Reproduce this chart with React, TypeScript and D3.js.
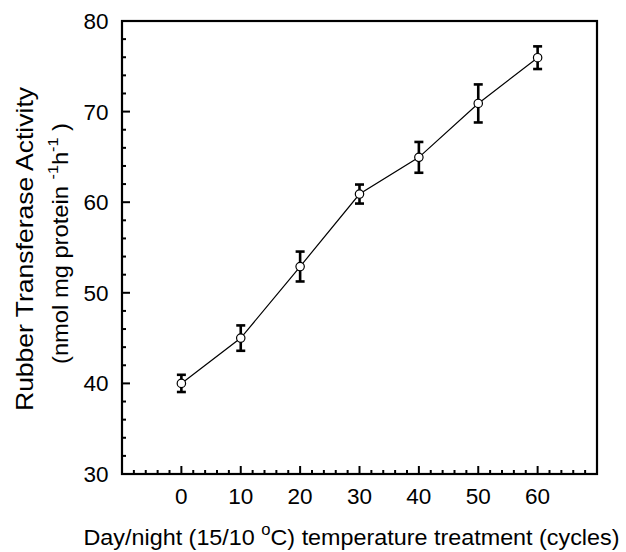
import React, { useEffect, useRef } from "react";
import * as d3 from "d3";

const cycles = [0, 10, 20, 30, 40, 50, 60];
const activity = [40.0, 45.0, 52.9, 60.9, 64.95, 70.9, 75.95];
const errors = [0.95, 1.4, 1.65, 1.05, 1.7, 2.1, 1.25];
const xTickValues = [0, 10, 20, 30, 40, 50, 60];
const yTickValues = [30, 40, 50, 60, 70, 80];

const W = 626;
const H = 552;
const FONT = "'Liberation Sans', Arial, sans-serif";

export default function App() {
  const ref = useRef<SVGSVGElement | null>(null);

  useEffect(() => {
    const svg = d3.select(ref.current);
    svg.selectAll("*").remove();

    const left = 122, right = 597, top = 21, bottom = 474;
    const x = d3.scaleLinear().domain([-10, 70]).range([left, right]);
    const y = d3.scaleLinear().domain([30, 80]).range([bottom, top]);

    const g = svg.append("g");

    const xMinor = d3.range(-8, 70, 2).filter((v) => v % 10 !== 0);
    g.selectAll(".xminor").data(xMinor).enter().append("line")
      .attr("x1", (d) => x(d)).attr("x2", (d) => x(d))
      .attr("y1", bottom).attr("y2", bottom - 4)
      .attr("stroke", "#000").attr("stroke-width", 2);
    g.selectAll(".xmajor").data(xTickValues).enter().append("line")
      .attr("x1", (d) => x(d)).attr("x2", (d) => x(d))
      .attr("y1", bottom).attr("y2", bottom - 8)
      .attr("stroke", "#000").attr("stroke-width", 2);

    const yMinor = d3.range(32, 80, 2).filter((v) => v % 10 !== 0);
    g.selectAll(".yminor").data(yMinor).enter().append("line")
      .attr("x1", left).attr("x2", left + 4)
      .attr("y1", (d) => y(d)).attr("y2", (d) => y(d))
      .attr("stroke", "#000").attr("stroke-width", 2);
    g.selectAll(".ymajor").data(yTickValues).enter().append("line")
      .attr("x1", left).attr("x2", left + 8)
      .attr("y1", (d) => y(d)).attr("y2", (d) => y(d))
      .attr("stroke", "#000").attr("stroke-width", 2);

    g.append("rect")
      .attr("x", left).attr("y", top)
      .attr("width", right - left).attr("height", bottom - top)
      .attr("fill", "none").attr("stroke", "#000").attr("stroke-width", 2.2);

    g.selectAll(".xl").data(xTickValues).enter().append("text")
      .attr("x", (d) => x(d)).attr("y", bottom + 30)
      .attr("text-anchor", "middle")
      .attr("font-family", FONT).attr("font-size", 22.5)
      .text((d) => String(d));
    g.selectAll(".yl").data(yTickValues).enter().append("text")
      .attr("x", left - 13.5).attr("y", (d) => y(d) + 8)
      .attr("text-anchor", "end")
      .attr("font-family", FONT).attr("font-size", 22.5)
      .text((d) => String(d));

    const pts = cycles.map((c, i) => [x(c), y(activity[i])] as [number, number]);
    g.append("path")
      .attr("d", d3.line()(pts) as string)
      .attr("fill", "none").attr("stroke", "#000").attr("stroke-width", 1.2);

    cycles.forEach((c, i) => {
      const cx = x(c);
      const y1 = y(activity[i] + errors[i]);
      const y2 = y(activity[i] - errors[i]);
      g.append("line").attr("x1", cx).attr("x2", cx).attr("y1", y1).attr("y2", y2)
        .attr("stroke", "#000").attr("stroke-width", 2.6);
      [y1, y2].forEach((yy) => {
        g.append("line").attr("x1", cx - 4.5).attr("x2", cx + 4.5).attr("y1", yy).attr("y2", yy)
          .attr("stroke", "#000").attr("stroke-width", 2.6);
      });
    });

    g.selectAll(".pt").data(pts).enter().append("circle")
      .attr("cx", (d) => d[0]).attr("cy", (d) => d[1]).attr("r", 4.2)
      .attr("fill", "#fff").attr("stroke", "#000").attr("stroke-width", 1.2);

    // x title
    const xt = g.append("text")
      .attr("x", 83.5).attr("y", 545)
      .attr("textLength", 536).attr("lengthAdjust", "spacingAndGlyphs")
      .attr("font-family", FONT).attr("font-size", 22.5);
    xt.append("tspan").text("Day/night (15/10 ");
    xt.append("tspan").attr("dy", -10).attr("font-size", 16).text("o");
    xt.append("tspan").attr("dy", 10).text("C) temperature treatment (cycles)");

    // y title
    g.append("text")
      .attr("transform", `translate(33,411) rotate(-90)`)
      .attr("textLength", 324).attr("lengthAdjust", "spacingAndGlyphs")
      .attr("font-family", FONT).attr("font-size", 24)
      .text("Rubber Transferase Activity");
    const yt2 = g.append("text")
      .attr("transform", `translate(68,364) rotate(-90)`)
      .attr("textLength", 241).attr("lengthAdjust", "spacingAndGlyphs")
      .attr("font-family", FONT).attr("font-size", 22);
    yt2.append("tspan").text("(nmol mg protein ");
    yt2.append("tspan").attr("dy", -10).attr("font-size", 15).text("-1");
    yt2.append("tspan").attr("dy", 10).text("h");
    yt2.append("tspan").attr("dy", -10).attr("font-size", 15).text("-1");
    yt2.append("tspan").attr("dy", 10).text(" )");
  }, []);

  return (
    <svg ref={ref} width={W} height={H} style={{ position: "absolute", left: 0, top: 0, background: "#fff" }} />
  );
}
